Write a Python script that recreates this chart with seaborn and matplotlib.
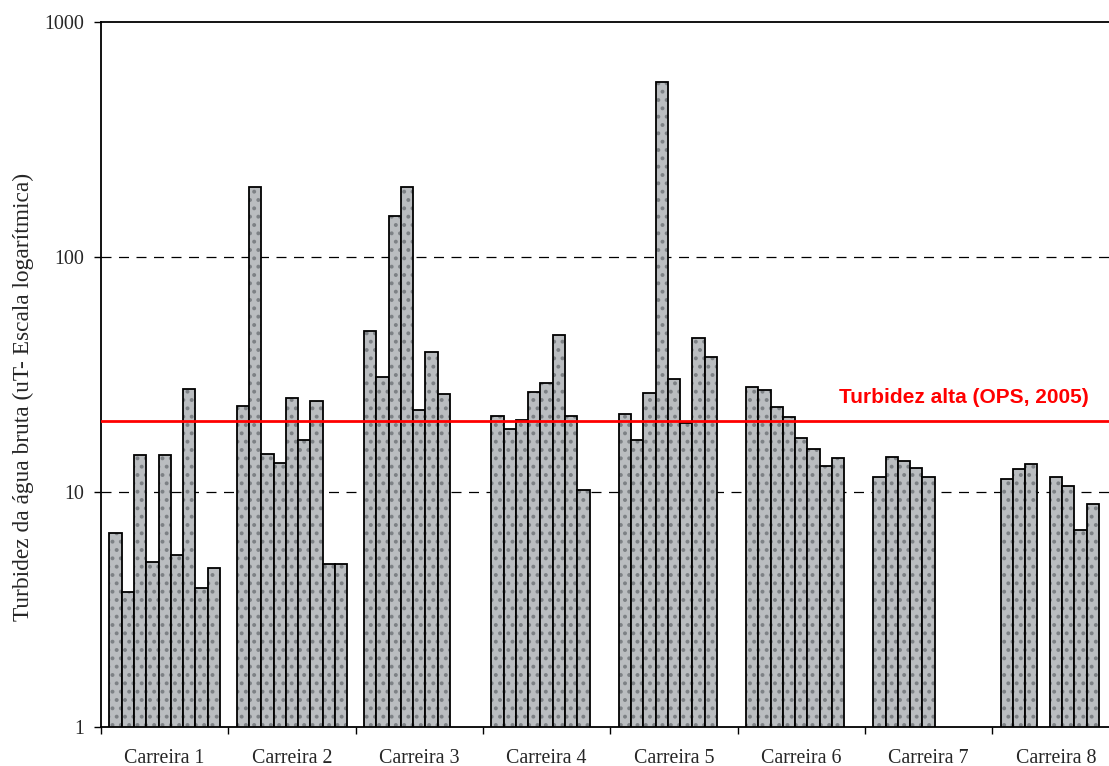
import pandas as pd
import matplotlib
matplotlib.use('Agg')
import matplotlib.pyplot as plt
import matplotlib.ticker as mticker
import matplotlib.colors as mcolors
import seaborn as sns

# Turbidez por carreira (uT), uma lista por carreira; None = amostra em falta
carreiras = ['Carreira 1', 'Carreira 2', 'Carreira 3', 'Carreira 4',
             'Carreira 5', 'Carreira 6', 'Carreira 7', 'Carreira 8']
carreira_1 = [6.7, 3.76, 14.3, 5.04, 14.3, 5.4, 27.4, 3.9, 4.76]
carreira_2 = [23.2, 198, 14.5, 13.3, 25.0, 16.6, 24.5, 4.94, 4.94]
carreira_3 = [48.4, 30.8, 149, 199, 22.3, 39.6, 26.2]
carreira_4 = [21.0, 18.6, 20.2, 26.7, 29.1, 46.7, 21.0, 10.2]
carreira_5 = [21.5, 16.6, 26.3, 555, 30.2, 19.6, 45.0, 37.6]
carreira_6 = [28.1, 27.2, 23.1, 20.8, 17.0, 15.2, 12.9, 13.9]
carreira_7 = [11.6, 14.1, 13.6, 12.7, 11.6]
carreira_8 = [11.4, 12.5, 13.1, None, 11.6, 10.6, 6.9, 8.85]

n_amostras = 9
turbidez_alta = 20  # OPS, 2005

valores = [carreira_1, carreira_2, carreira_3, carreira_4,
           carreira_5, carreira_6, carreira_7, carreira_8]

# tabela longa para o seaborn
linhas = []
for nome, serie in zip(carreiras, valores):
    for i, v in enumerate(serie):
        if v is not None:
            linhas.append({'carreira': nome, 'amostra': i, 'turbidez': v})
df = pd.DataFrame(linhas)

sns.set_style('white')
plt.rcParams['font.family'] = ['Liberation Serif', 'DejaVu Serif']
plt.rcParams['hatch.linewidth'] = 1.6

fig = plt.figure(figsize=(11.09, 7.66), dpi=100)
ax = fig.add_axes([101 / 1109, 39 / 766, 1018.6 / 1109, 705 / 766])

cinza = '#b9bdc1'
sns.barplot(data=df, x='carreira', y='turbidez', hue='amostra',
            order=carreiras, hue_order=list(range(n_amostras)),
            palette=[cinza] * n_amostras, dodge=True, width=0.87, gap=0,
            errorbar=None, edgecolor='black', linewidth=1.3,
            legend=False, ax=ax)

# textura "granito": pontilhado cinza escuro dentro das barras
for barra in ax.patches:
    barra.set_hatch('..')
    barra._hatch_color = mcolors.to_rgba('#7d8185')

# escala logarítmica depois das barras (barras partem de zero)
ax.set_yscale('log')
ax.set_ylim(1, 1000)
ax.set_xlim(-0.5, len(carreiras) - 0.5)

# linhas de grelha tracejadas em 10 e 100
for y in [10, 100]:
    ax.axhline(y, color='black', lw=0.9, ls=(0, (8, 6)), zorder=0)

# limite de turbidez alta
ax.axhline(turbidez_alta, color='#ff0000', lw=2, zorder=3)
ax.text(0.97, 23.0, 'Turbidez alta (OPS, 2005)', transform=ax.get_yaxis_transform(),
        ha='right', va='bottom', color='#ff0000', fontsize=15,
        fontweight='bold', family=['Liberation Sans', 'DejaVu Sans'])

# eixo y
ax.yaxis.set_major_locator(mticker.FixedLocator([1, 10, 100, 1000]))
ax.yaxis.set_major_formatter(mticker.FixedFormatter(['1', '10', '100', '1000']))
ax.yaxis.set_minor_locator(mticker.NullLocator())
ax.tick_params(axis='y', which='major', direction='out', length=5, width=1,
               color='black', labelsize=14.4, pad=7, left=True)
ax.set_ylabel('Turbidez da água bruta (uT- Escala logarítmica)', fontsize=16.8)
ax.yaxis.set_label_coords(-0.066, 0.468)

# eixo x: marcas nas fronteiras, rótulos no centro
ax.set_xticks([i - 0.5 for i in range(len(carreiras) + 1)])
ax.set_xticklabels([])
ax.set_xticks(range(len(carreiras)), minor=True)
ax.set_xticklabels(carreiras, minor=True)
ax.tick_params(axis='x', which='major', direction='out', length=5, width=1,
               color='black', bottom=True)
ax.tick_params(axis='x', which='minor', length=0, labelsize=14.4, pad=15.5)
ax.set_xlabel('')

for lado in ['left', 'bottom', 'top']:
    ax.spines[lado].set_color('black')
    ax.spines[lado].set_linewidth(1.3)
ax.spines['right'].set_visible(False)

fig.savefig('out.png', dpi=100)
